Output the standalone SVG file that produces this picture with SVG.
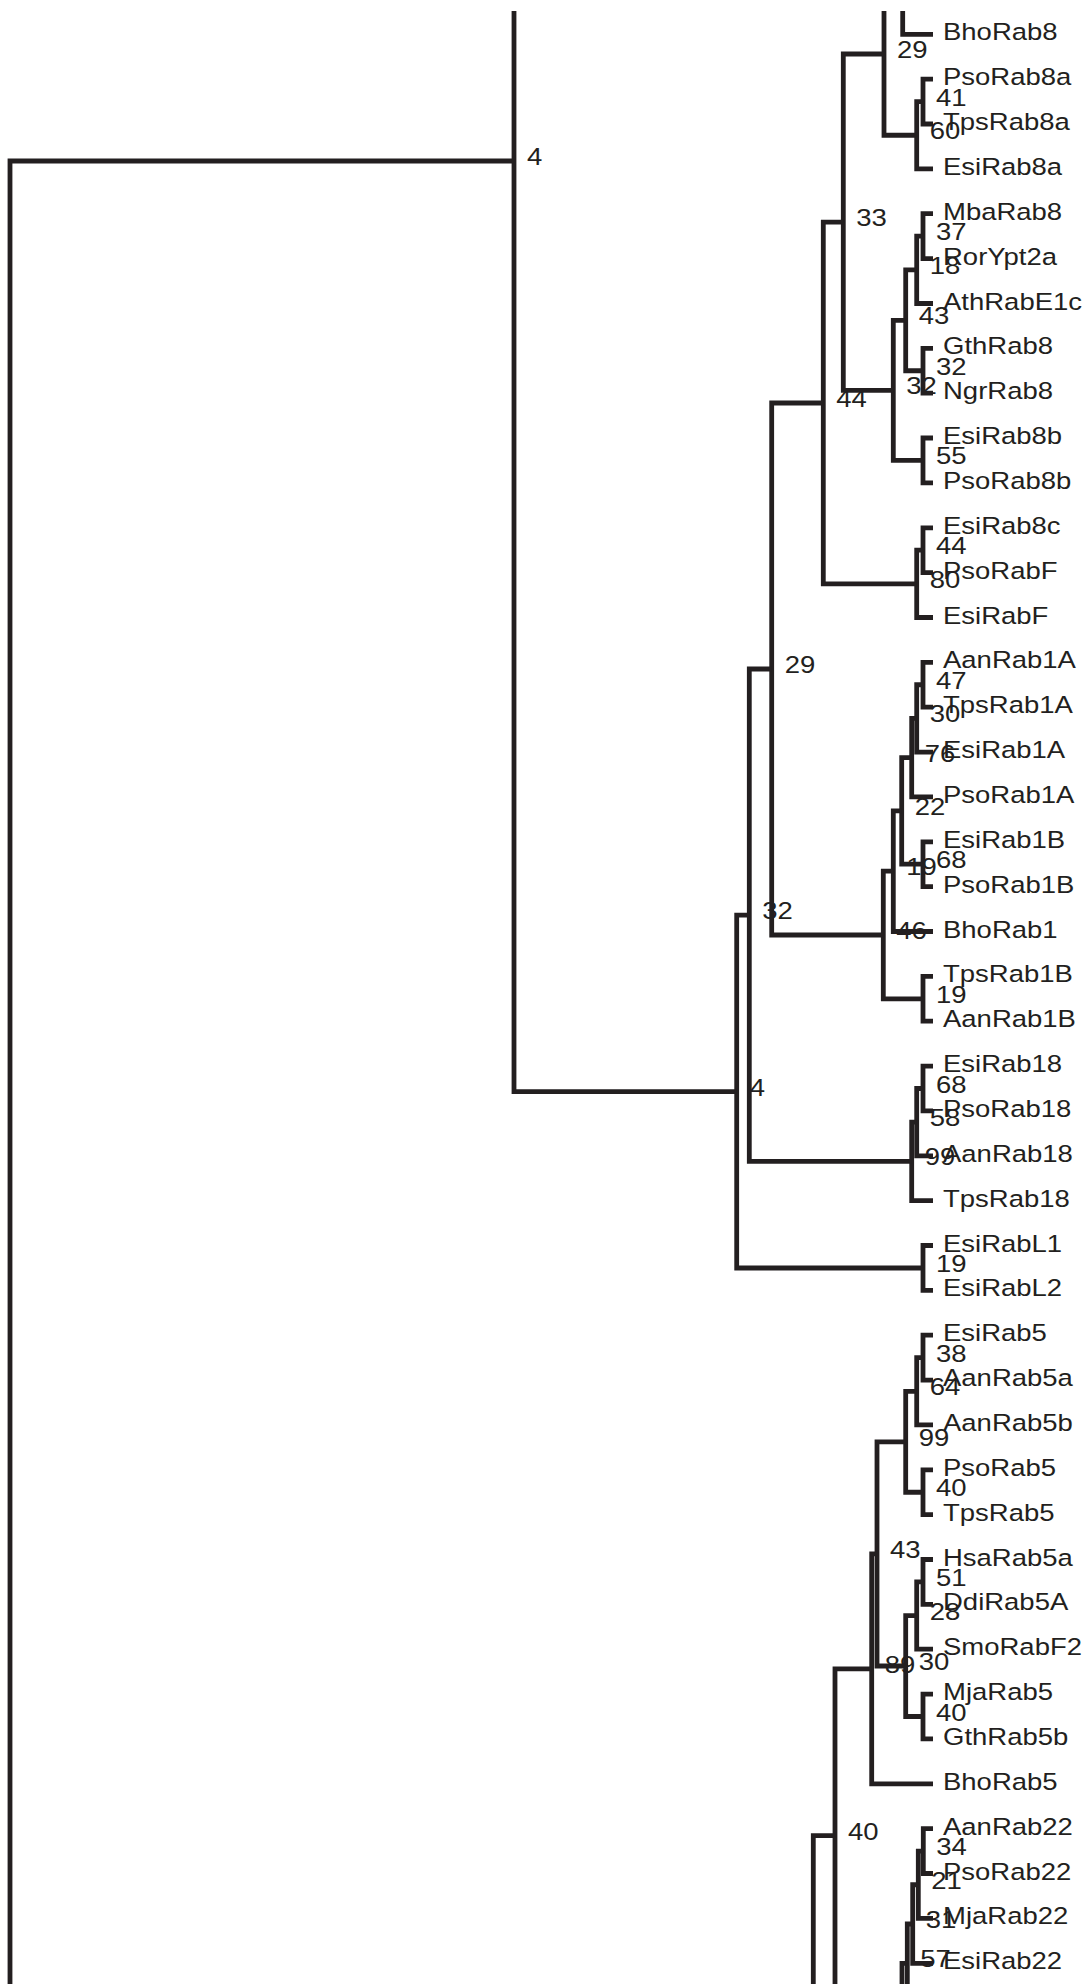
<svg xmlns="http://www.w3.org/2000/svg" width="1088" height="1984" viewBox="0 0 1088 1984">
<style>
.br{fill:none;stroke:#231f20;stroke-width:4.8;stroke-linejoin:miter;stroke-linecap:butt}
text{font-family:"Liberation Sans",Arial,sans-serif;font-size:23.5px;fill:#231f20}
</style>
<rect width="1088" height="1984" fill="#ffffff"/>
<g id="connectors" class="br">
<path d="M902.7 11 V34.3 H933"/>
<path d="M884 11 V135.25 H916.7"/>
<path d="M933 79.2 H923 V124 H933"/>
<path d="M923 101.6 H916.7 V168.9 H933"/>
<path d="M933 213.7 H923 V258.6 H933"/>
<path d="M923 236.15 H916.7 V303.5 H933"/>
<path d="M933 348.3 H923 V393.2 H933"/>
<path d="M916.7 269.8 H905.7 V370.75 H923"/>
<path d="M933 438 H923 V482.9 H933"/>
<path d="M905.7 320.3 H893.3 V460.45 H923"/>
<path d="M884 54 H843.3 V390.4 H893.3"/>
<path d="M933 527.8 H923 V572.6 H933"/>
<path d="M923 550.2 H916.7 V617.5 H933"/>
<path d="M843.3 222.2 H823.3 V583.85 H916.7"/>
<path d="M933 662.3 H923 V707.2 H933"/>
<path d="M923 684.75 H916.7 V752.1 H933"/>
<path d="M916.7 718.4 H911.7 V796.9 H933"/>
<path d="M933 841.8 H923 V886.6 H933"/>
<path d="M911.7 757.7 H901.7 V864.2 H923"/>
<path d="M901.7 810.9 H893.3 V931.5 H933"/>
<path d="M933 976.4 H923 V1021.2 H933"/>
<path d="M893.3 871.2 H883.3 V998.8 H923"/>
<path d="M823.3 403 H771.7 V935 H883.3"/>
<path d="M933 1066.1 H923 V1110.9 H933"/>
<path d="M923 1088.5 H916.7 V1155.8 H933"/>
<path d="M916.7 1122.15 H911.7 V1200.7 H933"/>
<path d="M771.7 669 H749.3 V1161.4 H911.7"/>
<path d="M933 1245.5 H923 V1290.4 H933"/>
<path d="M749.3 915.2 H736.7 V1268 H923"/>
<path d="M514 11 V1091.6 H736.7"/>
<path d="M514 161 H10 V1990"/>
<path d="M933 1335.2 H923 V1380.1 H933"/>
<path d="M923 1357.65 H916.7 V1424.9 H933"/>
<path d="M933 1469.8 H923 V1514.7 H933"/>
<path d="M916.7 1391.3 H905.7 V1492.25 H923"/>
<path d="M933 1559.5 H923 V1604.4 H933"/>
<path d="M923 1581.95 H916.7 V1649.2 H933"/>
<path d="M933 1694.1 H923 V1738.9 H933"/>
<path d="M916.7 1615.6 H905.7 V1716.5 H923"/>
<path d="M905.7 1441.8 H877 V1666 H905.7"/>
<path d="M877 1553.9 H871.7 V1783.8 H933"/>
<path d="M871.7 1668.9 H835 V1990"/>
<path d="M835 1835.7 H813.3 V1990"/>
<path d="M933 1828.7 H923.3 V1873.5 H933"/>
<path d="M923.3 1851.1 H918.3 V1918.4 H933"/>
<path d="M918.3 1884.75 H912.7 V1963.3 H933"/>
<path d="M912.7 1924 H907.3 V1990"/>
<path d="M907.3 1963.3 H902 V1990"/>
</g>
<g id="leaf-BhoRab8"><text transform="translate(943 40.3) scale(1.17 1)">BhoRab8</text></g>
<g id="leaf-PsoRab8a"><text transform="translate(943 85.2) scale(1.17 1)">PsoRab8a</text></g>
<g id="leaf-TpsRab8a"><text transform="translate(943 130) scale(1.17 1)">TpsRab8a</text></g>
<g id="leaf-EsiRab8a"><text transform="translate(943 174.9) scale(1.17 1)">EsiRab8a</text></g>
<g id="leaf-MbaRab8"><text transform="translate(943 219.7) scale(1.17 1)">MbaRab8</text></g>
<g id="leaf-RorYpt2a"><text transform="translate(943 264.6) scale(1.17 1)">RorYpt2a</text></g>
<g id="leaf-AthRabE1c"><text transform="translate(943 309.5) scale(1.17 1)">AthRabE1c</text></g>
<g id="leaf-GthRab8"><text transform="translate(943 354.3) scale(1.17 1)">GthRab8</text></g>
<g id="leaf-NgrRab8"><text transform="translate(943 399.2) scale(1.17 1)">NgrRab8</text></g>
<g id="leaf-EsiRab8b"><text transform="translate(943 444) scale(1.17 1)">EsiRab8b</text></g>
<g id="leaf-PsoRab8b"><text transform="translate(943 488.9) scale(1.17 1)">PsoRab8b</text></g>
<g id="leaf-EsiRab8c"><text transform="translate(943 533.8) scale(1.17 1)">EsiRab8c</text></g>
<g id="leaf-PsoRabF"><text transform="translate(943 578.6) scale(1.17 1)">PsoRabF</text></g>
<g id="leaf-EsiRabF"><text transform="translate(943 623.5) scale(1.17 1)">EsiRabF</text></g>
<g id="leaf-AanRab1A"><text transform="translate(943 668.3) scale(1.17 1)">AanRab1A</text></g>
<g id="leaf-TpsRab1A"><text transform="translate(943 713.2) scale(1.17 1)">TpsRab1A</text></g>
<g id="leaf-EsiRab1A"><text transform="translate(943 758.1) scale(1.17 1)">EsiRab1A</text></g>
<g id="leaf-PsoRab1A"><text transform="translate(943 802.9) scale(1.17 1)">PsoRab1A</text></g>
<g id="leaf-EsiRab1B"><text transform="translate(943 847.8) scale(1.17 1)">EsiRab1B</text></g>
<g id="leaf-PsoRab1B"><text transform="translate(943 892.6) scale(1.17 1)">PsoRab1B</text></g>
<g id="leaf-BhoRab1"><text transform="translate(943 937.5) scale(1.17 1)">BhoRab1</text></g>
<g id="leaf-TpsRab1B"><text transform="translate(943 982.4) scale(1.17 1)">TpsRab1B</text></g>
<g id="leaf-AanRab1B"><text transform="translate(943 1027.2) scale(1.17 1)">AanRab1B</text></g>
<g id="leaf-EsiRab18"><text transform="translate(943 1072.1) scale(1.17 1)">EsiRab18</text></g>
<g id="leaf-PsoRab18"><text transform="translate(943 1116.9) scale(1.17 1)">PsoRab18</text></g>
<g id="leaf-AanRab18"><text transform="translate(943 1161.8) scale(1.17 1)">AanRab18</text></g>
<g id="leaf-TpsRab18"><text transform="translate(943 1206.7) scale(1.17 1)">TpsRab18</text></g>
<g id="leaf-EsiRabL1"><text transform="translate(943 1251.5) scale(1.17 1)">EsiRabL1</text></g>
<g id="leaf-EsiRabL2"><text transform="translate(943 1296.4) scale(1.17 1)">EsiRabL2</text></g>
<g id="leaf-EsiRab5"><text transform="translate(943 1341.2) scale(1.17 1)">EsiRab5</text></g>
<g id="leaf-AanRab5a"><text transform="translate(943 1386.1) scale(1.17 1)">AanRab5a</text></g>
<g id="leaf-AanRab5b"><text transform="translate(943 1430.9) scale(1.17 1)">AanRab5b</text></g>
<g id="leaf-PsoRab5"><text transform="translate(943 1475.8) scale(1.17 1)">PsoRab5</text></g>
<g id="leaf-TpsRab5"><text transform="translate(943 1520.7) scale(1.17 1)">TpsRab5</text></g>
<g id="leaf-HsaRab5a"><text transform="translate(943 1565.5) scale(1.17 1)">HsaRab5a</text></g>
<g id="leaf-DdiRab5A"><text transform="translate(943 1610.4) scale(1.17 1)">DdiRab5A</text></g>
<g id="leaf-SmoRabF2"><text transform="translate(943 1655.2) scale(1.17 1)">SmoRabF2</text></g>
<g id="leaf-MjaRab5"><text transform="translate(943 1700.1) scale(1.17 1)">MjaRab5</text></g>
<g id="leaf-GthRab5b"><text transform="translate(943 1744.9) scale(1.17 1)">GthRab5b</text></g>
<g id="leaf-BhoRab5"><text transform="translate(943 1789.8) scale(1.17 1)">BhoRab5</text></g>
<g id="leaf-AanRab22"><text transform="translate(943 1834.7) scale(1.17 1)">AanRab22</text></g>
<g id="leaf-PsoRab22"><text transform="translate(943 1879.5) scale(1.17 1)">PsoRab22</text></g>
<g id="leaf-MjaRab22"><text transform="translate(943 1924.4) scale(1.17 1)">MjaRab22</text></g>
<g id="leaf-EsiRab22"><text transform="translate(943 1969.3) scale(1.17 1)">EsiRab22</text></g>
<g id="node-n884"><text transform="translate(897 58) scale(1.17 1)">29</text></g>
<g id="node-n923a"><text transform="translate(936 105.6) scale(1.17 1)">41</text></g>
<g id="node-n917a"><text transform="translate(929.7 139.25) scale(1.17 1)">60</text></g>
<g id="node-n843"><text transform="translate(856.3 226.2) scale(1.17 1)">33</text></g>
<g id="node-n923b"><text transform="translate(936 240.15) scale(1.17 1)">37</text></g>
<g id="node-n917b"><text transform="translate(929.7 273.8) scale(1.17 1)">18</text></g>
<g id="node-n906"><text transform="translate(918.7 324.3) scale(1.17 1)">43</text></g>
<g id="node-n923c"><text transform="translate(936 374.75) scale(1.17 1)">32</text></g>
<g id="node-n893"><text transform="translate(906.3 394.4) scale(1.17 1)">32</text></g>
<g id="node-n823"><text transform="translate(836.3 407) scale(1.17 1)">44</text></g>
<g id="node-n923d"><text transform="translate(936 464.45) scale(1.17 1)">55</text></g>
<g id="node-n923e"><text transform="translate(936 554.2) scale(1.17 1)">44</text></g>
<g id="node-n917c"><text transform="translate(929.7 587.85) scale(1.17 1)">80</text></g>
<g id="node-n772"><text transform="translate(784.7 673) scale(1.17 1)">29</text></g>
<g id="node-n923f"><text transform="translate(936 688.75) scale(1.17 1)">47</text></g>
<g id="node-n917d"><text transform="translate(929.7 722.4) scale(1.17 1)">30</text></g>
<g id="node-n912"><text transform="translate(924.7 761.7) scale(1.17 1)">76</text></g>
<g id="node-n902"><text transform="translate(914.7 814.9) scale(1.17 1)">22</text></g>
<g id="node-n923g"><text transform="translate(936 868.2) scale(1.17 1)">68</text></g>
<g id="node-n893b"><text transform="translate(906.3 875.2) scale(1.17 1)">19</text></g>
<g id="node-n749"><text transform="translate(762.3 919.2) scale(1.17 1)">32</text></g>
<g id="node-n883"><text transform="translate(896.3 939) scale(1.17 1)">46</text></g>
<g id="node-n923h"><text transform="translate(936 1002.8) scale(1.17 1)">19</text></g>
<g id="node-n923i"><text transform="translate(936 1092.5) scale(1.17 1)">68</text></g>
<g id="node-n737"><text transform="translate(749.7 1095.6) scale(1.17 1)">4</text></g>
<g id="node-n917e"><text transform="translate(929.7 1126.15) scale(1.17 1)">58</text></g>
<g id="node-n912b"><text transform="translate(924.7 1165.4) scale(1.17 1)">99</text></g>
<g id="node-n923j"><text transform="translate(936 1272) scale(1.17 1)">19</text></g>
<g id="node-n514"><text transform="translate(527 165) scale(1.17 1)">4</text></g>
<g id="node-n923k"><text transform="translate(936 1361.65) scale(1.17 1)">38</text></g>
<g id="node-n917f"><text transform="translate(929.7 1395.3) scale(1.17 1)">64</text></g>
<g id="node-n906b"><text transform="translate(918.7 1445.8) scale(1.17 1)">99</text></g>
<g id="node-n923l"><text transform="translate(936 1496.25) scale(1.17 1)">40</text></g>
<g id="node-n877"><text transform="translate(890 1557.9) scale(1.17 1)">43</text></g>
<g id="node-n923m"><text transform="translate(936 1585.95) scale(1.17 1)">51</text></g>
<g id="node-n917g"><text transform="translate(929.7 1619.6) scale(1.17 1)">28</text></g>
<g id="node-n906c"><text transform="translate(918.7 1670) scale(1.17 1)">30</text></g>
<g id="node-n872"><text transform="translate(884.7 1672.9) scale(1.17 1)">89</text></g>
<g id="node-n923n"><text transform="translate(936 1720.5) scale(1.17 1)">40</text></g>
<g id="node-n835"><text transform="translate(848 1839.7) scale(1.17 1)">40</text></g>
<g id="node-n923o"><text transform="translate(936.3 1855.1) scale(1.17 1)">34</text></g>
<g id="node-n918"><text transform="translate(931.3 1888.75) scale(1.17 1)">21</text></g>
<g id="node-n912c"><text transform="translate(925.7 1928) scale(1.17 1)">31</text></g>
<g id="node-n907"><text transform="translate(920.3 1967.3) scale(1.17 1)">57</text></g>
</svg>
